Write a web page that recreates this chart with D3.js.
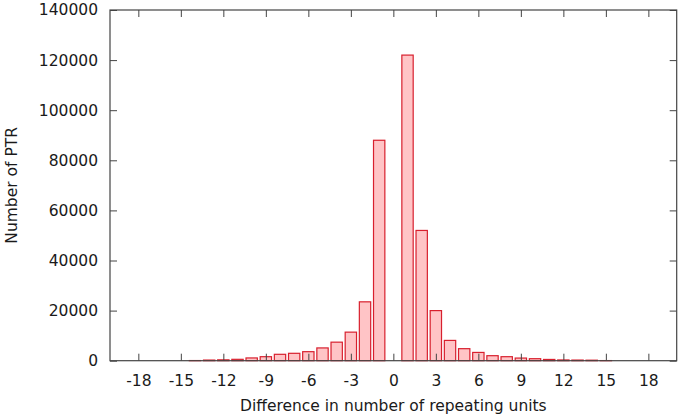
<!DOCTYPE html>
<html>
<head>
<meta charset="utf-8">
<script src="https://cdn.jsdelivr.net/npm/d3@7"></script>
<style>
  body { margin: 0; background: #fff; }
  text { font-family: "DejaVu Sans", sans-serif; fill: #1a1a1a; }
</style>
</head>
<body>
<div id="chart"></div>
<script>
// difference in repeating units and number of PTR for each
var diffs = [-14, -13, -12, -11, -10, -9, -8, -7, -6, -5, -4, -3, -2, -1,
             1, 2, 3, 4, 5, 6, 7, 8, 9, 10, 11, 12, 13, 14, 15];
var counts = [60, 250, 350, 550, 1100, 1600, 2550, 2950, 3600, 5100, 7400, 11400, 23500, 88000,
              122000, 52000, 20000, 8100, 4800, 3300, 2000, 1600, 1050, 800, 500, 300, 250, 200, 50];
var xTicks = [-18, -15, -12, -9, -6, -3, 0, 3, 6, 9, 12, 15, 18];
var yTicks = [0, 20000, 40000, 60000, 80000, 100000, 120000, 140000];

var data = diffs.map((d, i) => ({ diff: d, count: counts[i] }));

var svgWidth = 680, svgHeight = 419;
var margin = { top: 10, right: 3.3, bottom: 58.3, left: 110 };
var width = svgWidth - margin.left - margin.right;
var height = svgHeight - margin.top - margin.bottom;
var fontSize = "15.5px";

var svg = d3.select("#chart").append("svg")
    .attr("width", svgWidth)
    .attr("height", svgHeight);

var chartGroup = svg.append("g")
    .attr("transform", `translate(${margin.left}, ${margin.top})`);

var xScale = d3.scaleLinear().domain([-20, 20]).range([0, width]);
var yScale = d3.scaleLinear().domain([0, 140000]).range([height, 0]);
var barW = xScale(0.8) - xScale(0);

// bars
chartGroup.selectAll("rect.bar")
    .data(data)
    .enter()
    .append("rect")
    .attr("class", "bar")
    .attr("x", d => xScale(d.diff) - barW / 2)
    .attr("y", d => yScale(d.count))
    .attr("width", barW)
    .attr("height", d => height - yScale(d.count))
    .attr("fill", "#ffc4c6")
    .attr("stroke", "#d8202e")
    .attr("stroke-width", 1.2);

// axes, ticks pointing inward, mirrored on top/right
var tickLen = 7;
var plain = d => String(d);
var bottomAxis = d3.axisBottom(xScale).tickValues(xTicks).tickSize(-tickLen).tickPadding(14).tickFormat(plain);
var topAxis = d3.axisTop(xScale).tickValues(xTicks).tickSize(-tickLen).tickFormat("");
var leftAxis = d3.axisLeft(yScale).tickValues(yTicks).tickSize(-tickLen).tickPadding(12).tickFormat(plain);
var rightAxis = d3.axisRight(yScale).tickValues(yTicks).tickSize(-tickLen).tickFormat("");

var gx = chartGroup.append("g").attr("transform", `translate(0, ${height})`).call(bottomAxis);
var gt = chartGroup.append("g").call(topAxis);
var gy = chartGroup.append("g").call(leftAxis);
var gr = chartGroup.append("g").attr("transform", `translate(${width}, 0)`).call(rightAxis);

[gx, gt, gy, gr].forEach(g => {
    g.select(".domain").remove();
    g.selectAll(".tick line").attr("stroke", "#444").attr("stroke-width", 1);
    g.selectAll(".tick text").style("font-size", fontSize).style("font-family", "DejaVu Sans, sans-serif").attr("fill", "#1a1a1a");
});

// frame
chartGroup.append("rect")
    .attr("width", width)
    .attr("height", height)
    .attr("fill", "none")
    .attr("stroke", "#444")
    .attr("stroke-width", 1.2);

// axis titles
chartGroup.append("text")
    .attr("x", xScale(0))
    .attr("y", height + 50.5)
    .attr("text-anchor", "middle")
    .style("font-size", fontSize)
    .text("Difference in number of repeating units");

chartGroup.append("text")
    .attr("transform", "rotate(-90)")
    .attr("x", -height / 2)
    .attr("y", -93)
    .attr("text-anchor", "middle")
    .style("font-size", fontSize)
    .text("Number of PTR");
</script>
</body>
</html>
